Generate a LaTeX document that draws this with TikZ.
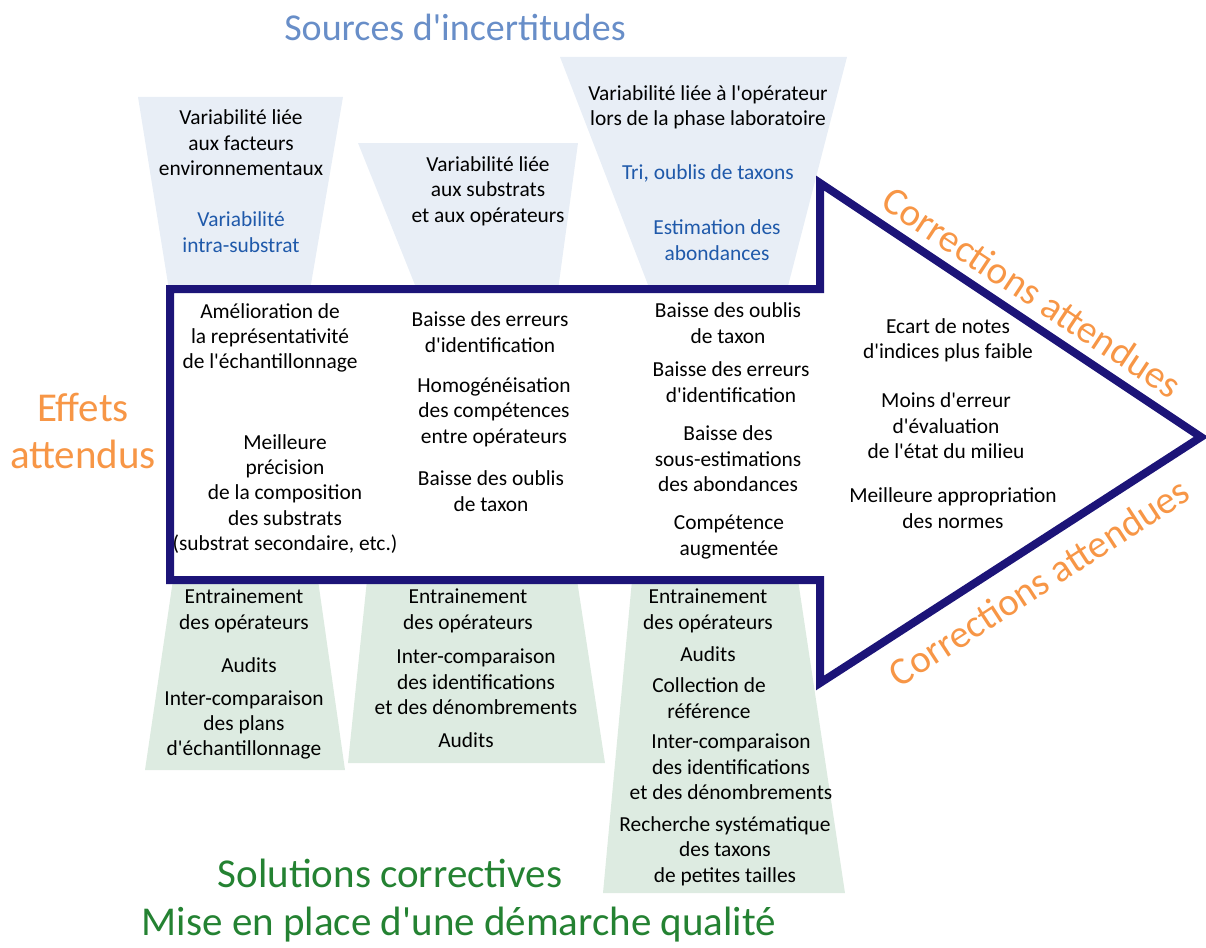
\documentclass[tikz,border=0pt]{standalone}
\usepackage{fontspec}
\setmainfont{Carlito}[Ligatures=TeXOff]
\definecolor{arrowc}{RGB}{28,20,120}
\definecolor{bluefill}{RGB}{232,238,246}
\definecolor{greenfill}{RGB}{221,235,225}
\definecolor{titleblue}{RGB}{104,142,200}
\definecolor{subblue}{RGB}{31,89,170}
\definecolor{orangec}{RGB}{247,150,70}
\definecolor{greenc}{RGB}{36,130,50}
\begin{document}
\begin{tikzpicture}[x=1pt,y=-1pt,
  txt/.style={align=center,inner sep=0pt,font=\fontsize{21.4}{25.4}\selectfont,text=black},
  bluetxt/.style={txt,text=subblue},
  bigtitle/.style={inner sep=0pt,font=\fontsize{41}{47}\selectfont},
]
\useasboundingbox (0,0) rectangle (1206,947);
% top trapezoids
\fill[bluefill] (138,97) -- (343,97) -- (310,290) -- (169,290) -- cycle;
\fill[bluefill] (358,143) -- (578,143) -- (558,290) -- (417,290) -- cycle;
\fill[bluefill] (560,57) -- (847,57) -- (787,290) -- (650,290) -- cycle;
% bottom trapezoids
\fill[greenfill] (173,580) -- (318,580) -- (345,770) -- (145,770) -- cycle;
\fill[greenfill] (367,580) -- (577,580) -- (605,763) -- (348,763) -- cycle;
\fill[greenfill] (632,580) -- (798,580) -- (845,893) -- (603,893) -- cycle;
% arrow
\draw[arrowc,line width=8pt,fill=white,line join=miter]
  (170,289) -- (820,289) -- (820,183) -- (1201,437) -- (820,683) -- (820,580) -- (170,580) -- cycle;
% titles
\node[bigtitle,text=titleblue,font=\fontsize{38}{44}\selectfont] (src) at (455,27) {Sources d'incertitudes};
\node[bigtitle,text=orangec,align=center] (eff) at (83,431) {Effets\\attendus};
\node[bigtitle,text=greenc] (sol) at (390,873) {Solutions correctives};
\node[bigtitle,text=greenc] (mise) at (459,925) {Mise en place d'une démarche qualité};
\node[bigtitle,text=orangec,rotate=-33.5,font=\fontsize{39}{45}\selectfont] (corr1) at (1032,292) {Corrections attendues};
\node[bigtitle,text=orangec,rotate=33,font=\fontsize{39}{45}\selectfont] (corr2) at (1039,582) {Corrections attendues};
% sources
\node[txt] (s1a) at (241,143) {Variabilité liée\\aux facteurs\\environnementaux};
\node[bluetxt] (s1b) at (241,232) {Variabilité\\intra-substrat};
\node[txt] (s2a) at (488,191) {Variabilité liée\\aux substrats\\et aux opérateurs};
\node[txt] (s3a) at (708,107) {Variabilité liée à l'opérateur\\lors de la phase laboratoire};
\node[bluetxt] (s3b) at (708,173) {Tri, oublis de taxons};
\node[bluetxt] (s3c) at (717,240) {Estimation des\\abondances};
% effects column 1
\node[txt] (e1a) at (270,338) {Amélioration de\\la représentativité\\de l'échantillonnage};
\node[txt] (e1b) at (285,494) {Meilleure\\précision\\de la composition\\des substrats\\(substrat secondaire, etc.)};
% column 2
\node[txt] (e2a) at (490,332) {Baisse des erreurs\\d'identification};
\node[txt] (e2b) at (494,412) {Homogénéisation\\des compétences\\entre opérateurs};
\node[txt] (e2c) at (491,491) {Baisse des oublis\\de taxon};
% column 3
\node[txt] (e3a) at (728,323) {Baisse des oublis\\de taxon};
\node[txt] (e3b) at (731,382) {Baisse des erreurs\\d'identification};
\node[txt] (e3c) at (728,459) {Baisse des\\sous-estimations\\des abondances};
\node[txt] (e3d) at (729,537) {Compétence\\augmentée};
% column 4
\node[txt] (e4a) at (948,340) {Ecart de notes\\d'indices plus faible};
\node[txt] (e4b) at (946,426) {Moins d'erreur\\d'évaluation\\de l'état du milieu};
\node[txt] (e4c) at (953,508) {Meilleure appropriation\\des normes};
% solutions 1
\node[txt] (b1a) at (244,611) {Entrainement\\des opérateurs};
\node[txt] (b1b) at (249,665) {Audits};
\node[txt] (b1c) at (244,725) {Inter-comparaison\\des plans\\d'échantillonnage};
% solutions 2
\node[txt] (b2a) at (468,611) {Entrainement\\des opérateurs};
\node[txt] (b2b) at (476,682) {Inter-comparaison\\des identifications\\et des dénombrements};
\node[txt] (b2c) at (466,740) {Audits};
% solutions 3
\node[txt] (b3a) at (708,611) {Entrainement\\des opérateurs};
\node[txt] (b3b) at (708,654) {Audits};
\node[txt] (b3c) at (709,698) {Collection de\\référence};
\node[txt] (b3d) at (731,767) {Inter-comparaison\\des identifications\\et des dénombrements};
\node[txt] (b3e) at (725,851) {Recherche systématique\\des taxons\\de petites tailles};
\end{tikzpicture}
\end{document}
